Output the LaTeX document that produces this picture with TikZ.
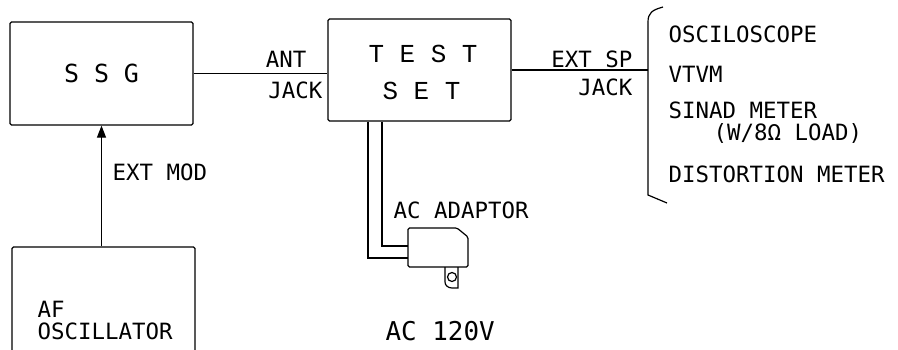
\documentclass[tikz,border=0pt]{standalone}
\usepackage{fontspec}
\setmainfont{DejaVu Sans Mono}
\newfontfamily\boxfont{Liberation Mono}
\usetikzlibrary{arrows.meta,positioning,calc}

\begin{document}
\begin{tikzpicture}[x=1bp, y=-1bp, line width=1.2bp,
    box/.style={draw, rounded corners=1.5bp, inner sep=0pt},
    lbl/.style={inner sep=0pt, font=\fontsize{22.5}{26}\selectfont},
    big/.style={inner sep=0pt, font=\boxfont\fontsize{26}{30}\selectfont}]
    \clip (0,0) rectangle (898,349);

    % Boxes
    \node[box, minimum width=183bp, minimum height=103bp, font=\fontsize{25}{30}\selectfont] (ssg) at (101.5,73.5) {S S G};
    \node[box, minimum width=183bp, minimum height=102bp] (testset) at (419.5,70) {};
    \node[big, anchor=base] (testtop) at (423,62) {T E S T};
    \node[big, anchor=base] (testbot) at (421.5,99) {S E T};
    \node[box, minimum width=183bp, minimum height=130bp] (afosc) at (103.5,312) {};
    \node[lbl, anchor=base west] (aflabel) at (37,317) {AF};
    \node[lbl, anchor=base west] (osclabel) at (37,339) {OSCILLATOR};

    % SSG -- TEST SET
    \draw (ssg.east) -- (ssg.east -| testset.west);
    \node[lbl, anchor=base east] (ant) at (307,67) {ANT};
    \node[lbl, anchor=base east] (antjack) at (323,98) {JACK};

    % Modulation input
    \draw[-{Triangle[length=12bp,width=9bp]}] (afosc.north -| ssg.south) -- (ssg.south);
    \node[lbl, anchor=base west] (extmod) at (112,180) {EXT MOD};

    % Speaker output and bracket
    \coordinate (brk) at (648,70);
    \draw (testset.east) -- (brk);
    \node[lbl, anchor=base east] (extsp) at (633,67) {EXT SP};
    \node[lbl, anchor=base east] (spjack) at (633,95) {JACK};
    \draw (663,7) .. controls (652,10) and (648,13) .. (648,22) -- (648,195) -- (667,203);
    \node[lbl, anchor=base west] (osc) at (668,42) {OSCILOSCOPE};
    \node[lbl, anchor=base west] (vtvm) at (668,82) {VTVM};
    \node[lbl, anchor=base west] (sinad) at (668,118) {SINAD METER};
    \node[lbl, anchor=base west] (load) at (713,140) {(W/8Ω LOAD)};
    \node[lbl, anchor=base west] (dist) at (668,182) {DISTORTION METER};

    % AC adaptor
    \coordinate (cabA) at (368,0);
    \coordinate (cabB) at (382,0);
    \draw (testset.south -| cabA) -- (368,258) -- (408,258);
    \draw (testset.south -| cabB) -- (382,246) -- (408,246);
    \draw[rounded corners=1.5bp] (408,228) -- (457,228) -- (468,237) -- (468,267) -- (408,267) -- cycle;
    \draw (445,267) -- (445,282) to[out=-90,in=180] (452,288) -- (458,288) -- (458,267);
    \draw (452,277) circle (4.5);
    \node[lbl, anchor=base west] (adaptor) at (393,218) {AC ADAPTOR};
    \node[lbl, anchor=base west, font=\fontsize{26}{30}\selectfont] (mains) at (385,340) {AC 120V};
\end{tikzpicture}
\end{document}
